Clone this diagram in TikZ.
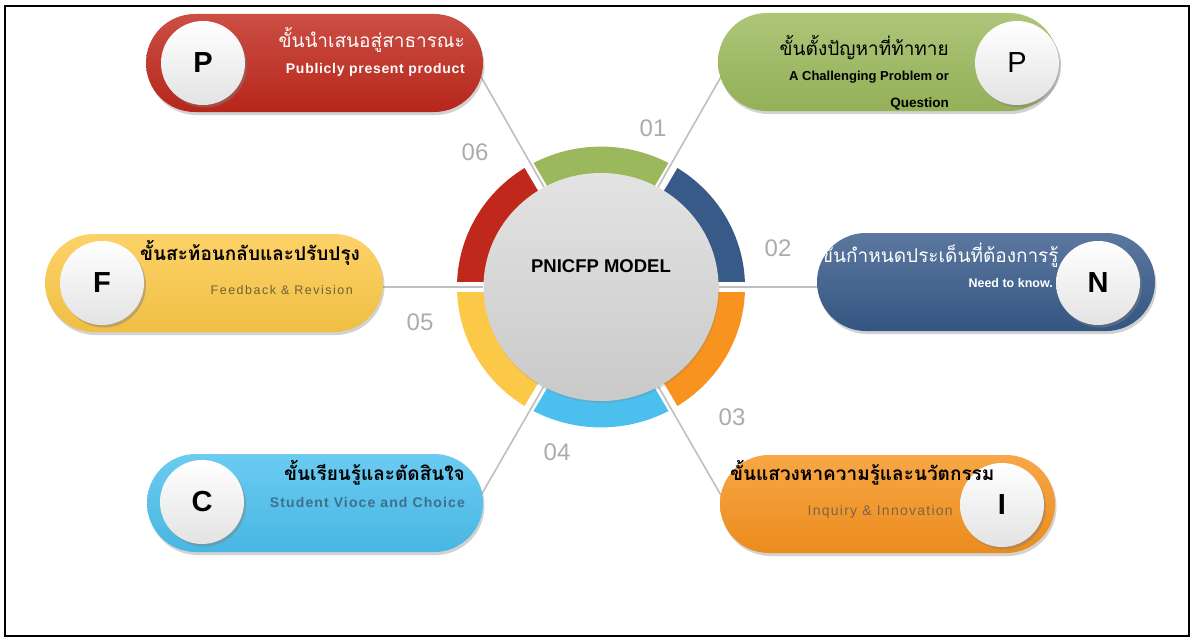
\documentclass[tikz,border=0pt]{standalone}
\usepackage{fontspec}
\setmainfont{Liberation Sans}
\newfontfamily\thaifont[Script=Thai]{Loma}
\usetikzlibrary{shadows,calc,shapes.geometric}
\pgfdeclarelayer{back}
\pgfdeclarelayer{mid}
\pgfsetlayers{back,mid,main}
\definecolor{cred}{HTML}{C0281C}
\definecolor{cgreen}{HTML}{9BB95C}
\definecolor{cnavy}{HTML}{375A89}
\definecolor{corange}{HTML}{F7931E}
\definecolor{cblue}{HTML}{4BC0EE}
\definecolor{cyellow}{HTML}{FCC847}
\definecolor{cfeed}{HTML}{6E6236}
\definecolor{cstud}{HTML}{3F6F8E}
\definecolor{cinq}{HTML}{7D6448}
\begin{document}
\begin{tikzpicture}[x=1pt,y=-1pt,
  pill/.style={rectangle, rounded corners=48.9pt, minimum height=98pt, inner sep=0pt,
     top color=#1!82!white, bottom color=#1!95!black,
     drop shadow={shadow xshift=1.5pt, shadow yshift=-3pt, opacity=0.35}},
  letter/.style={circle, minimum size=84pt, inner sep=0pt, top color=white, bottom color=gray!22,
     drop shadow={shadow xshift=2pt, shadow yshift=-2.5pt, opacity=0.45},
     font=\fontsize{29}{29}\selectfont\bfseries},
  thai/.style={inner sep=0pt, font=\thaifont\fontsize{19}{21}\selectfont},
  thaib/.style={inner sep=0pt, font=\thaifont\fontsize{19}{21}\selectfont\bfseries},
  en/.style={inner sep=0pt, font=\fontsize{#1}{14}\selectfont\bfseries},
  en/.default=13,
  num/.style={inner sep=0pt, text=gray!65, font=\fontsize{24}{24}\selectfont},
  conn/.style={draw=gray!50, line width=1.6pt},
  core/.style={ellipse, minimum width=235pt, minimum height=228pt, inner sep=0pt, top color=gray!22, bottom color=gray!42,
     drop shadow={shadow xshift=1pt, shadow yshift=-2pt, opacity=0.25}}]
\useasboundingbox (0,0) rectangle (1192,642);

% centre
\node[core] (core) at (601,287) {};
\node[inner sep=0pt, font=\fontsize{18.5}{18}\selectfont\bfseries] (title) at (601,266) {PNICFP MODEL};

% background and ring
\begin{pgfonlayer}{back}
\fill[white] (0,0) rectangle (1192,642);
\begin{scope}[shift={(601,287)}, y=0.975pt]
  \foreach \a/\b/\c in {0/60/cnavy,60/120/cgreen,120/180/cred,180/240/cyellow,240/300/cblue,300/360/corange}{
    \fill[\c] (\a:144) arc[start angle=\a, end angle=\b, radius=144] -- (\b:100) arc[start angle=\b, end angle=\a, radius=100] -- cycle;
  }
  \foreach \a in {0,60,...,300}{ \draw[white, line width=10pt] (0,0) -- (\a:152); }
\end{scope}
\end{pgfonlayer}
\draw[line width=2.4pt] (5,6) rectangle (1189,636);

% connector ends
\coordinate (e1) at (726,68);
\coordinate (e2) at (835,287);
\coordinate (e3) at (726,504);
\coordinate (e4) at (476,504);
\coordinate (e5) at (365,287);
\coordinate (e6) at (476,68);
\begin{pgfonlayer}{mid}
  \foreach \e in {e1,e2,e3,e4,e5,e6}{ \draw[conn] (core) -- (\e); }
\end{pgfonlayer}

% numbers
\node[num] (n1) at (653,128) {01};
\node[num] (n2) at (778,248) {02};
\node[num] (n3) at (732,417) {03};
\node[num] (n4) at (557,452) {04};
\node[num] (n5) at (420,322) {05};
\node[num] (n6) at (475,152) {06};

% pills
\node[pill=cred, minimum width=337pt] (bred) at (314.5,63) {};
\node[pill=cgreen, minimum width=340pt] (bgreen) at (888,62) {};
\node[pill=cyellow, minimum width=338pt] (byellow) at (214,283) {};
\node[pill=cnavy, minimum width=338pt] (bnavy) at (986,282) {};
\node[pill=cblue, minimum width=336pt] (bblue) at (315,503) {};
\node[pill=corange, minimum width=335pt] (borange) at (887.5,504) {};

% navy thai text (behind its circle)
\node[thai, text=white, anchor=west] (tnavy) at (820,255) {ขั้นกำหนดประเด็นที่ต้องการรู้};

% letter circles
\node[letter] (cP1) at (203,63) {P};
\node[letter, font=\fontsize{29}{29}\selectfont] (cP2) at (1017,63) {P};
\node[letter] (cF) at (102,283) {F};
\node[letter] (cN) at (1098,283) {N};
\node[letter] (cC) at (202,502) {C};
\node[letter] (cI) at (1002,505) {I};

% texts
\node[thai, text=white, anchor=east] (tred) at (465,40) {ขั้นนำเสนอสู่สาธารณะ};
\node[en=14, text=white, anchor=east] (ered) at (465,70) {\addfontfeatures{LetterSpace=5}Publicly present product};

\node[thai, anchor=east] (tgreen) at (949,48) {ขั้นตั้งปัญหาที่ท้าทาย};
\node[en=13, anchor=east] (egreen) at (949,77) {A Challenging Problem or};
\node[en=13.5, anchor=east] (egreen2) at (949,104) {Question};

\node[thaib, anchor=west] (tyellow) at (140,253) {ขั้นสะท้อนกลับและปรับปรุง};
\node[inner sep=0pt, font=\fontsize{12.5}{14}\selectfont, text=cfeed, anchor=east] (eyellow) at (353,290) {\addfontfeatures{LetterSpace=12}Feedback \& Revision};

\node[en=12.5, text=white, anchor=east] (enavy) at (1053,283) {Need to know.};

\node[thaib, anchor=east] (tblue) at (465,473) {ขั้นเรียนรู้และตัดสินใจ};
\node[en=14, text=cstud, anchor=east] (eblue) at (465,502) {\addfontfeatures{LetterSpace=8}Student Vioce and Choice};

\node[thaib, anchor=west] (torange) at (730,473) {ขั้นแสวงหาความรู้และนวัตกรรม};
\node[inner sep=0pt, font=\fontsize{14}{14}\selectfont, text=cinq, anchor=east] (eorange) at (953,512) {\addfontfeatures{LetterSpace=9}Inquiry \& Innovation};
\end{tikzpicture}
\end{document}
